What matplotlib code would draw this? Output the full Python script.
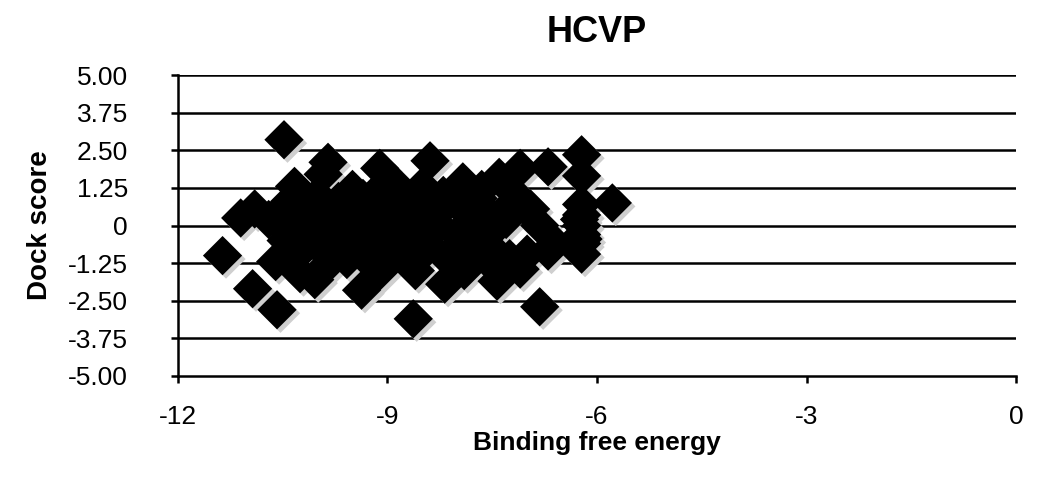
import matplotlib
matplotlib.use("Agg")
import matplotlib.pyplot as plt
import matplotlib.transforms as mtransforms

plt.rcParams['font.family'] = ['Liberation Sans', 'DejaVu Sans']

# binding free energy vs dock score
energy = [
    -10.48, -11.36, -11.10, -10.90, -10.93, -10.58, -10.33, -9.85, -9.92, -9.11,
    -8.39, -8.63, -6.82, -6.70, -7.10, -7.40, -7.92, -6.22, -6.22, -5.78,
    -6.22, -6.22, -6.22, -6.22, -6.22, -6.22, -6.25, -6.20,
    -6.95, -7.05, -6.82, -6.60, -6.70, -7.00, -7.10, -7.43,
    -8.18, -8.72, -9.37, -9.58, -10.04, -10.25,
    -10.60, -10.60, -10.40, -10.30, -10.30, -10.10, -10.00, -10.00, -9.90, -9.80,
    -9.70, -9.70, -9.50, -9.50, -9.40, -9.30, -9.20, -9.10, -9.00, -8.90,
    -8.80, -8.70, -8.60, -8.50, -8.40, -8.30, -8.20, -8.10, -8.00, -7.90,
    -7.80, -7.70, -7.55, -7.50, -7.40, -7.65, -8.00, -8.90, -9.60, -10.20,
    -10.45, -10.20, -10.15, -9.95, -9.85, -9.60, -9.55, -9.35, -9.25, -9.05,
    -8.95, -8.75, -8.65, -8.55, -8.35, -8.25, -8.05, -7.95, -7.85, -7.75,
    -7.60, -7.45, -7.30, -8.60, -9.10, -7.90, -10.50, -10.70, -7.25, -7.20,
]
dock = [
    2.85, -1.00, 0.25, 0.55, -2.10, -2.80, 1.30, 2.10, 1.70, 1.90,
    2.15, -3.10, -2.70, 1.95, 1.90, 1.60, 1.45, 2.35, 1.65, 0.75,
    0.70, 0.35, 0.00, -0.30, -0.60, -0.95, 0.20, -0.45,
    0.55, 0.65, 0.00, -0.60, -0.85, -0.95, -1.45, -1.85,
    -1.95, -1.10, -2.15, -1.13, -1.80, -1.60,
    0.30, -1.20, 0.80, -0.20, -1.00, 0.40, 1.00, -0.60, -1.40, 0.10,
    0.80, -0.80, 1.20, -0.20, 0.50, -1.10, 1.00, -0.40, 0.30, -1.00,
    0.90, -0.30, 0.40, 1.30, -0.70, 0.10, 1.00, -1.20, -0.30, 0.50,
    -0.90, 0.90, -0.30, -1.30, 0.30, 1.20, 0.80, 1.40, 0.50, 0.90,
    -0.50, 0.90, -0.30, 0.30, -1.00, 0.40, -0.60, 0.90, -0.10, -0.90,
    0.70, 0.00, -0.80, 0.80, -0.20, 0.50, -0.80, 0.90, 0.00, -0.50,
    0.50, -0.90, 0.20, -1.50, -1.50, -1.50, 0.00, 0.20, -1.10, 1.10,
]

yticks = [-5.0, -3.75, -2.5, -1.25, 0, 1.25, 2.5, 3.75, 5.0]
ylabels = ['-5.00', '-3.75', '-2.50', '-1.25', '0', '1.25', '2.50', '3.75', '5.00']
xticks = [-12, -9, -6, -3, 0]

fig = plt.figure(figsize=(10.4, 4.8), dpi=100)
ax = fig.add_axes([0.171, 0.2167, 0.806, 0.627])

for y in yticks[1:]:
    ax.axhline(y, color='black', lw=1.8, zorder=1)

shadow = mtransforms.offset_copy(ax.transData, fig=fig, x=2.5, y=-2.5, units='points')
ax.scatter(energy, dock, marker='D', s=400, color='#cfcfcf', edgecolors='none',
           transform=shadow, zorder=2)
ax.scatter(energy, dock, marker='D', s=400, color='black', edgecolors='none', zorder=3)

ax.set_xlim(-12, 0)
ax.set_ylim(-5, 5)
ax.set_xticks(xticks)
ax.set_xticklabels([str(v) for v in xticks])
ax.set_yticks(yticks)
ax.set_yticklabels(ylabels)

for side in ['top', 'right']:
    ax.spines[side].set_visible(False)
for side in ['left', 'bottom']:
    ax.spines[side].set_linewidth(1.8)
ax.tick_params(axis='both', direction='out', length=5, width=1.8, labelsize=19)
ax.tick_params(axis='y', pad=31)
ax.tick_params(axis='x', pad=16)

ax.set_title('HCVP', fontsize=26, fontweight='bold', pad=24)
ax.set_xlabel('Binding free energy', fontsize=19, fontweight='bold', labelpad=1)
ax.set_ylabel('Dock score', fontsize=20, fontweight='bold', labelpad=11)

fig.savefig('out.png', dpi=100)
